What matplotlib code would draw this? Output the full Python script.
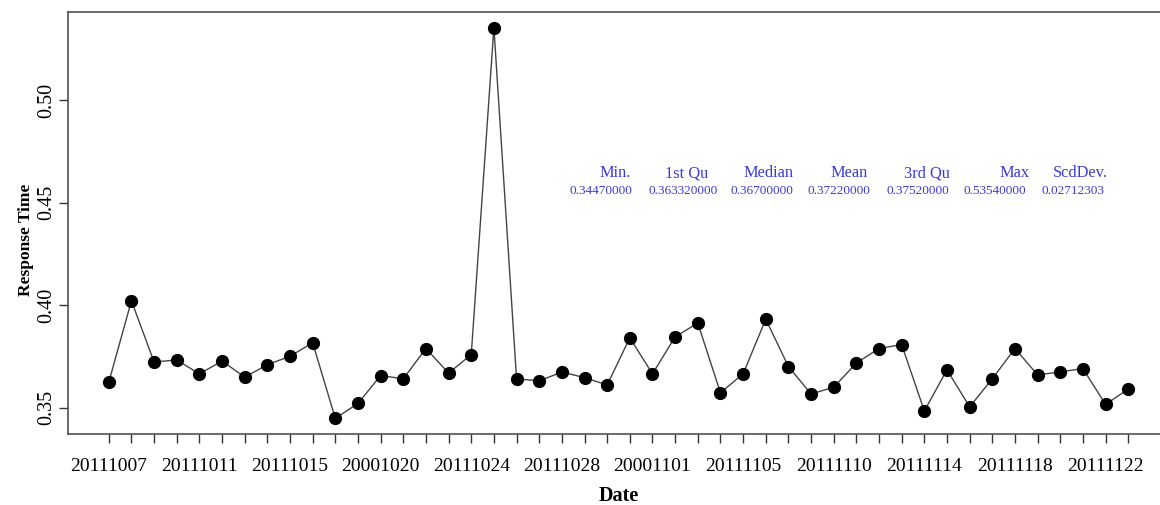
import matplotlib
matplotlib.use("Agg")
import matplotlib.pyplot as plt

# Daily response times (46 observations)
response_time = [
    0.3623, 0.4021, 0.3722, 0.3732, 0.3664, 0.3727, 0.3648, 0.3709, 0.3750, 0.3816,
    0.3447, 0.3520, 0.3656, 0.3640, 0.3788, 0.3668, 0.3758, 0.5354, 0.3640, 0.3630,
    0.3673, 0.3646, 0.3610, 0.3840, 0.3664, 0.3845, 0.3912, 0.3572, 0.3664, 0.3931,
    0.3700, 0.3566, 0.3599, 0.3717, 0.3788, 0.3807, 0.3483, 0.3684, 0.3503, 0.3640,
    0.3788, 0.3659, 0.3674, 0.3690, 0.3515, 0.3590,
]

# Date labels shown on every fourth tick
date_labels = [
    "20111007", "20111011", "20111015", "20001020", "20111024", "20111028",
    "20001101", "20111105", "20111110", "20111114", "20111118", "20111122",
]
label_every = 4

# Summary statistics printed inside the plot
stat_names = ["Min.", "1st Qu", "Median", "Mean", "3rd Qu", "Max", "ScdDev."]
stat_values = ["0.34470000", "0.363320000", "0.36700000", "0.37220000",
               "0.37520000", "0.53540000", "0.02712303"]

y_ticks = [0.35, 0.40, 0.45, 0.50]

plt.rcParams["font.family"] = ["Liberation Serif", "DejaVu Serif"]

W, H = 1160, 505
fig = plt.figure(figsize=(W / 100, H / 100), dpi=100)
# plot region runs slightly past the right edge of the canvas
ax_l, ax_r, ax_t, ax_b = 68, 1169, 12, 434
ax = fig.add_axes([ax_l / W, 1 - ax_b / H, (ax_r - ax_l) / W, (ax_b - ax_t) / H])

x = list(range(1, len(response_time) + 1))
ax.plot(x, response_time, color="#444444", linewidth=1.0, zorder=2)
ax.plot(x, response_time, linestyle="none", marker="o", markersize=8.5,
        color="black", zorder=3)

ax.margins(x=0.04, y=0.04)

tick_text = [date_labels[i // label_every] if i % label_every == 0 else ""
             for i in range(len(x))]
ax.set_xticks(x)
ax.set_xticklabels(tick_text)
ax.tick_params(axis="x", length=6.5, width=1.0, color="#333333", labelsize=14, pad=10.5)

ax.set_yticks(y_ticks)
ax.set_yticklabels([f"{v:.2f}" for v in y_ticks], rotation=90, va="center")
ax.tick_params(axis="y", length=6.5, width=1.0, color="#333333", labelsize=14.5, pad=2)

for s in ax.spines.values():
    s.set_color("#444444")
    s.set_linewidth(1.1)

ax.set_xlabel("Date", fontsize=14.5, fontweight="bold", labelpad=8)
ax.set_ylabel("Response Time", fontsize=12.5, fontweight="bold")
ax.yaxis.set_label_coords(-34 / (ax_r - ax_l), (ax_b - 240) / (ax_b - ax_t))

# Right edges (in pixels) of each statistics column
name_right = [631, 708, 793, 868, 950, 1030, 1108]
value_right = [632, 718, 793, 870, 949, 1026, 1104]
blue = "#3b3bd6"
for nm, val, nr, vr in zip(stat_names, stat_values, name_right, value_right):
    fig.text(nr / W, 1 - 173 / H, nm, ha="right", va="center", fontsize=11.8, color=blue)
    fig.text(vr / W, 1 - 191 / H, val, ha="right", va="center", fontsize=9.5, color=blue)

fig.savefig("out.png", dpi=100)
